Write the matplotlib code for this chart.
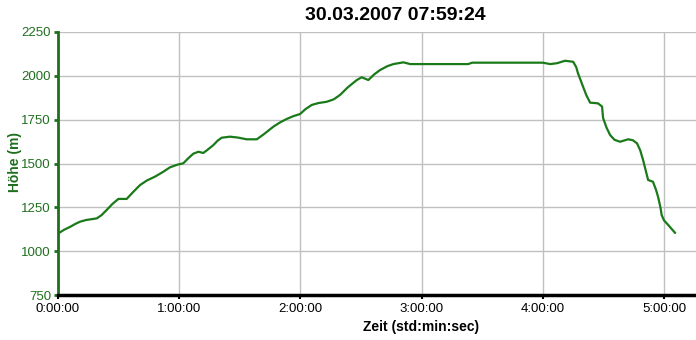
import matplotlib.pyplot as plt
from matplotlib.ticker import FuncFormatter

# elevation profile: time in minutes, height in m
zeit_min = [0, 3, 5.9, 8.5, 10.9, 14, 17, 19.2, 21.5, 24.1, 27, 29.9, 34, 37, 40.6, 44, 48,
            52, 55.4, 59, 62, 64.5, 67, 69.5, 71.9, 74, 76.9, 79, 81, 85.1, 89, 93.4, 98.4,
            102, 106.6, 110, 113.2, 116.5, 119.8, 122.5, 125.6, 129, 133, 136.5, 139.6,
            143.5, 147.9, 150.3, 153.6, 156.5, 159.4, 163, 166, 171, 174.3, 203, 205, 240,
            243.6, 247, 251, 255, 256.5, 257.4, 259.9, 261.5, 263.4, 265.5, 267.3, 269.3,
            269.8, 271.5, 273.3, 275.5, 278.2, 282.2, 284.5, 286.6, 288.2, 289.6, 292.1,
            294.5, 296, 297, 298.2, 298.8, 300, 301.3, 305.4]
hoehe = [1100, 1122, 1138, 1155, 1168, 1178, 1183, 1187, 1205, 1235, 1270, 1298, 1298, 1335,
         1377, 1403, 1425, 1452, 1478, 1493, 1501, 1530, 1556, 1567, 1560, 1578, 1605, 1630,
         1647, 1653, 1648, 1638, 1638, 1668, 1710, 1735, 1754, 1770, 1782, 1810, 1834, 1845,
         1852, 1866, 1891, 1935, 1976, 1992, 1976, 2008, 2033, 2055, 2067, 2077, 2067, 2067,
         2075, 2075, 2067, 2072, 2086, 2080, 2050, 2014, 1938, 1890, 1847, 1845, 1843, 1825,
         1760, 1705, 1662, 1635, 1624, 1638, 1633, 1615, 1575, 1520, 1406, 1396, 1350,
         1311, 1250, 1206, 1175, 1159, 1105]

x_ticks = [0, 60, 120, 180, 240, 300]
y_ticks = [750, 1000, 1250, 1500, 1750, 2000, 2250]

green = "#1f6f1f"
plt.rcParams["font.family"] = ["Liberation Sans", "DejaVu Sans"]

fig = plt.figure(figsize=(6.96, 3.40), dpi=100)
ax = fig.add_axes([58 / 696, 45 / 340, 638 / 696, 263 / 340])

ax.plot(zeit_min, hoehe, color="#1a7a1a", linewidth=1.6)

ax.set_xlim(0, 315.8)
ax.set_ylim(750, 2250)
ax.set_xticks(x_ticks)
ax.set_yticks(y_ticks)
ax.xaxis.set_major_formatter(FuncFormatter(lambda v, p: f"{int(v // 60)}:{int(v % 60):02d}:00"))
ax.grid(True, color="#c0c0c0", linewidth=1)
ax.set_axisbelow(True)

for s in ["top", "right"]:
    ax.spines[s].set_visible(False)
ax.spines["left"].set_color(green)
ax.spines["left"].set_linewidth(2)
ax.spines["bottom"].set_color("black")
ax.spines["bottom"].set_linewidth(2.5)

ax.tick_params(axis="y", colors=green, length=3, width=2, labelsize=9.5, pad=2)
ax.tick_params(axis="x", colors="black", length=3, width=1.5, labelsize=9.5, pad=3)

fig.text(395 / 696, 1 - 16 / 340, "30.03.2007 07:59:24", fontsize=14, fontweight="bold",
         ha="center", va="center")
fig.text(421 / 696, 1 - 327 / 340, "Zeit (std:min:sec)", fontsize=10, fontweight="bold",
         ha="center", va="center")
fig.text(15 / 696, 1 - 162 / 340, "Höhe (m)", fontsize=10, fontweight="bold", color=green,
         rotation=90, ha="center", va="center")

plt.savefig("out.png", dpi=100)
plt.close()
